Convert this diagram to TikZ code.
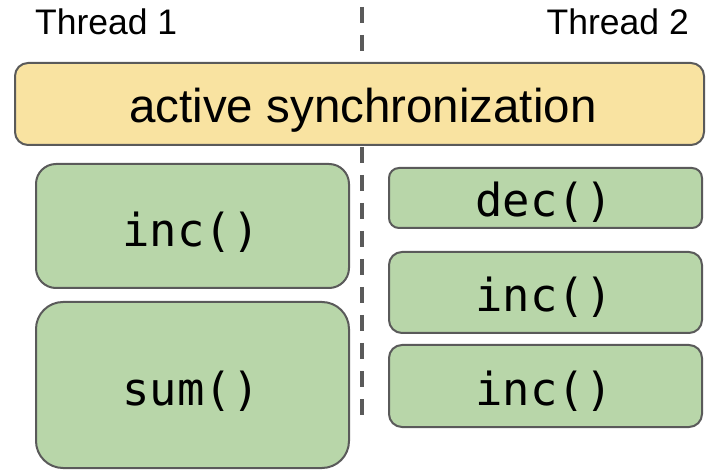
\documentclass[tikz,border=0pt]{standalone}
\usepackage{fontspec}
\setmainfont{Liberation Sans}
\newfontfamily\codefont{DejaVu Sans Mono}
\definecolor{boxline}{HTML}{5A5A5A}
\definecolor{syncfill}{HTML}{F9E3A1}
\definecolor{callfill}{HTML}{B8D6A9}
\definecolor{divline}{HTML}{5A5A5A}
\begin{document}
\begin{tikzpicture}[x=1pt,y=-1pt,
  callbox/.style={draw=boxline, line width=2pt, fill=callfill, inner sep=0pt},
  syncbox/.style={draw=boxline, line width=2pt, fill=syncfill, inner sep=0pt, rounded corners=13pt},
  codetext/.style={inner sep=0pt, anchor=base, font=\codefont\fontsize{45.5}{54}\selectfont},
  headtext/.style={inner sep=0pt, font=\fontsize{35.5}{42}\selectfont},
  divider/.style={draw=divline, line width=4pt, dash pattern=on 16pt off 12pt}
]
\useasboundingbox (0,0) rectangle (707,470);
% divider
\coordinate (dtop) at (362,7);
\coordinate (dbot) at (362,415);
\draw[divider] (dtop) -- (dbot);
% headers
\node[headtext, anchor=base west] (th1) at (35,35) {Thread 1};
\node[headtext, anchor=base east] (th2) at (689,35) {Thread 2};
% sync box
\node[syncbox, minimum width=689pt, minimum height=82pt] (sync) at (359.5,104) {};
\node[inner sep=0pt, anchor=base, font=\fontsize{47.5}{56}\selectfont] (synct) at (363,123) {active synchronization};
% thread 1
\node[callbox, rounded corners=20pt, minimum width=313pt, minimum height=124pt] (l1) at (192.5,226) {};
\node[codetext] (l1t) at (191,247) {inc()};
\node[callbox, rounded corners=27pt, minimum width=313pt, minimum height=166pt] (l2) at (192.5,385) {};
\node[codetext] (l2t) at (191,405) {sum()};
% thread 2
\node[callbox, rounded corners=10pt, minimum width=313pt, minimum height=60pt] (r1) at (545.5,198) {};
\node[codetext] (r1t) at (544,217) {dec()};
\node[callbox, rounded corners=13pt, minimum width=313pt, minimum height=81pt] (r2) at (545.5,292.5) {};
\node[codetext] (r2t) at (544,312) {inc()};
\node[callbox, rounded corners=13pt, minimum width=313pt, minimum height=82pt] (r3) at (545.5,386) {};
\node[codetext] (r3t) at (544,405) {inc()};
\end{tikzpicture}
\end{document}
